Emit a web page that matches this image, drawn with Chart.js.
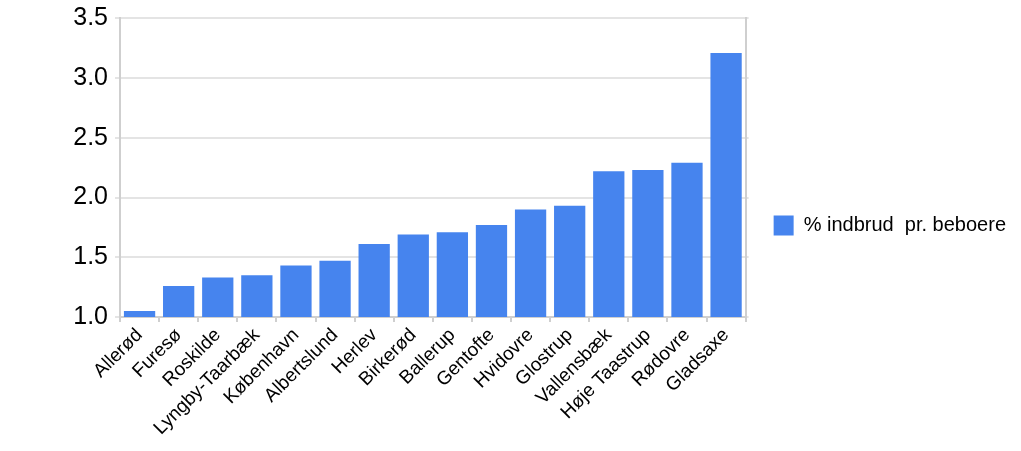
<!DOCTYPE html>
<html>
<head>
<meta charset="utf-8">
<script src="https://cdn.jsdelivr.net/npm/chart.js@4"></script>
<style>
  html, body { margin: 0; padding: 0; background: #fff; }
  #wrap { width: 1021px; height: 451px; }
</style>
</head>
<body>
<div id="wrap"><canvas id="burglaryChart"></canvas></div>
<script>
// kommuner, sorted by share of burglaries
const municipalities = [
    'Allerød', 'Furesø', 'Roskilde', 'Lyngby-Taarbæk', 'København', 'Albertslund',
    'Herlev', 'Birkerød', 'Ballerup', 'Gentofte', 'Hvidovre', 'Glostrup',
    'Vallensbæk', 'Høje Taastrup', 'Rødovre', 'Gladsaxe'
];
const burglaryPct = [
    1.05, 1.26, 1.33, 1.35, 1.43, 1.47,
    1.61, 1.69, 1.71, 1.77, 1.90, 1.93,
    2.22, 2.23, 2.29, 3.21
];
const seriesLabel = '% indbrud  pr. beboere';
const yTicks = [1.0, 1.5, 2.0, 2.5, 3.0, 3.5];

const barBlue = '#4684ee';
const gridGrey = '#e4e4e4';
const axisGrey = '#cfcfcf';
const fontFamily = 'Arial, "Liberation Sans", sans-serif';

new Chart(document.getElementById('burglaryChart'), {
    type: 'bar',
    data: {
        labels: municipalities,
        datasets: [{
            label: seriesLabel,
            data: burglaryPct,
            backgroundColor: barBlue,
            borderWidth: 0,
            barPercentage: 0.8,
            categoryPercentage: 1.0,
            yAxisID: 'y'
        }]
    },
    options: {
        responsive: true,
        maintainAspectRatio: false,
        animation: false,
        layout: { padding: { top: 0, right: 5, left: 0, bottom: 0 } },
        plugins: {
            legend: {
                position: 'right',
                align: 'center',
                maxWidth: 320,
                labels: {
                    boxWidth: 20,
                    boxHeight: 20,
                    padding: 10,
                    color: '#000',
                    font: { family: fontFamily, size: 20 }
                }
            },
            tooltip: { enabled: false }
        },
        scales: {
            x: {
                afterFit: (axis) => { axis.height = 134; },
                grid: {
                    drawOnChartArea: false,
                    drawTicks: true,
                    tickLength: 5,
                    color: axisGrey,
                    lineWidth: 2
                },
                border: { color: axisGrey, width: 2 },
                ticks: {
                    autoSkip: false,
                    maxRotation: 45,
                    minRotation: 45,
                    color: '#000',
                    padding: 2,
                    font: { family: fontFamily, size: 19 }
                }
            },
            y: {
                min: yTicks[0],
                max: yTicks[yTicks.length - 1],
                afterFit: (axis) => { axis.width = 120; },
                afterBuildTicks: (axis) => { axis.ticks = yTicks.map(v => ({ value: v })); },
                grid: {
                    color: gridGrey,
                    lineWidth: 2,
                    tickLength: 5,
                    tickColor: gridGrey
                },
                border: { color: axisGrey, width: 2 },
                ticks: {
                    color: '#000',
                    padding: 7,
                    font: { family: fontFamily, size: 25, lineHeight: 0.9 },
                    callback: (v) => Number(v).toFixed(1)
                }
            },
            yRight: {
                position: 'right',
                min: yTicks[0],
                max: yTicks[yTicks.length - 1],
                afterFit: (axis) => { axis.width = 18; },
                afterBuildTicks: (axis) => { axis.ticks = yTicks.map(v => ({ value: v })); },
                grid: {
                    drawOnChartArea: false,
                    tickLength: 3,
                    color: gridGrey,
                    lineWidth: 2
                },
                border: { color: axisGrey, width: 2 },
                ticks: { display: false }
            }
        }
    }
});
</script>
</body>
</html>
